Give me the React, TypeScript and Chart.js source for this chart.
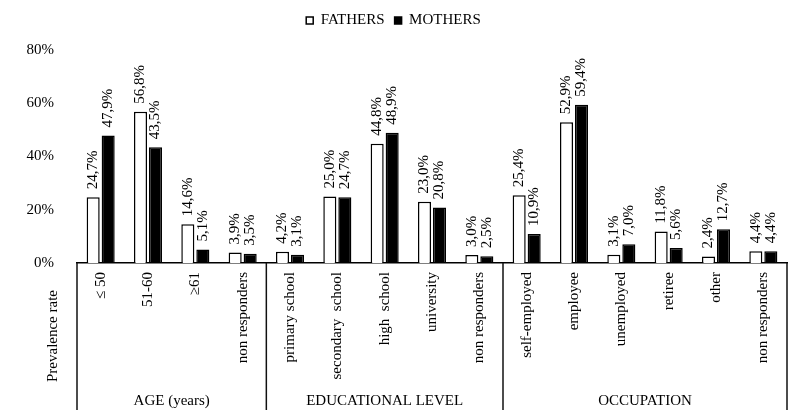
import React, { useEffect, useRef } from 'react';
import { Chart, registerables } from 'chart.js';

Chart.register(...registerables);

const FONT = "'Liberation Serif', 'Times New Roman', serif";

const categories = [
  '≤ 50', '51-60', '≥61', 'non responders',
  'primary school', 'secondary  school', 'high  school', 'university', 'non responders',
  'self-employed', 'employee', 'unemployed', 'retiree', 'other', 'non responders',
];
const groupNames = ['AGE (years)', 'EDUCATIONAL LEVEL', 'OCCUPATION'];
const groupSizes = [4, 5, 6];
const fathers = [24.7, 56.8, 14.6, 3.9, 4.2, 25.0, 44.8, 23.0, 3.0, 25.4, 52.9, 3.1, 11.8, 2.4, 4.4];
const mothers = [47.9, 43.5, 5.1, 3.5, 3.1, 24.7, 48.9, 20.8, 2.5, 10.9, 59.4, 7.0, 5.6, 12.7, 4.4];
const yMin = 0;
const yMax = 80;
const yStep = 20;
const yTitle = 'Prevalence rate';

const fmt = (v: number) => v.toFixed(1).replace('.', ',') + '%';

const annotPlugin = {
  id: 'annot',
  afterDatasetsDraw(chart: any) {
    const ctx = chart.ctx;
    const area = chart.chartArea;
    const xs = chart.scales.x;
    ctx.save();
    ctx.fillStyle = '#000';
    ctx.font = `15px ${FONT}`;
    chart.data.datasets.forEach((ds: any, di: number) => {
      const meta = chart.getDatasetMeta(di);
      meta.data.forEach((el: any, i: number) => {
        ctx.save();
        ctx.translate(el.x, el.y - 8);
        ctx.rotate(-Math.PI / 2);
        ctx.textAlign = 'left';
        ctx.textBaseline = 'middle';
        ctx.fillText(fmt(ds.data[i]), 0, 0);
        ctx.restore();
      });
    });

    // group separators and labels
    const bounds: number[] = [area.left];
    let idx = 0;
    groupSizes.forEach((n, g) => {
      idx += n;
      if (g < groupSizes.length - 1) {
        bounds.push((xs.getPixelForValue(idx - 1) + xs.getPixelForValue(idx)) / 2);
      } else {
        bounds.push(area.right);
      }
    });
    ctx.strokeStyle = '#111';
    ctx.lineWidth = 1.5;
    bounds.forEach((bx) => {
      ctx.beginPath();
      ctx.moveTo(bx, area.bottom);
      ctx.lineTo(bx, chart.height);
      ctx.stroke();
    });
    ctx.textAlign = 'center';
    ctx.textBaseline = 'alphabetic';
    groupNames.forEach((name, g) => {
      ctx.fillText(name, (bounds[g] + bounds[g + 1]) / 2, 405);
    });

    // y title
    ctx.save();
    ctx.translate(53, 336);
    ctx.rotate(-Math.PI / 2);
    ctx.textAlign = 'center';
    ctx.textBaseline = 'middle';
    ctx.fillText(yTitle, 0, 0);
    ctx.restore();
    ctx.restore();
  },
};

export default function App() {
  const ref = useRef<HTMLCanvasElement>(null);
  useEffect(() => {
    if (!ref.current) return;
    const chart = new Chart(ref.current, {
      type: 'bar',
      data: {
        labels: categories,
        datasets: [
          {
            label: 'FATHERS',
            data: fathers,
            backgroundColor: '#fff',
            borderColor: '#000',
            borderWidth: 1.5,
            categoryPercentage: 0.634,
            barPercentage: 0.87,
          },
          {
            label: 'MOTHERS',
            data: mothers,
            backgroundColor: '#000',
            borderColor: '#000',
            borderWidth: 1.5,
            categoryPercentage: 0.634,
            barPercentage: 0.87,
          },
        ],
      },
      options: {
        animation: false,
        responsive: true,
        maintainAspectRatio: false,
        layout: { padding: { left: 0, right: 12, top: 3, bottom: 0 } },
        plugins: {
          legend: {
            position: 'top',
            labels: {
              color: '#000',
              font: { family: FONT, size: 15 },
              boxWidth: 7,
              boxHeight: 7,
              padding: 10,
            },
          },
          subtitle: {
            display: true,
            text: '',
            weight: 500,
            font: { size: 1, lineHeight: 1 },
            padding: { top: 0, bottom: 11 },
          } as any,
          tooltip: { enabled: false },
        },
        scales: {
          x: {
            grid: { display: false },
            border: { display: true, color: '#000', width: 1.5 },
            ticks: {
              autoSkip: false,
              minRotation: 90,
              maxRotation: 90,
              padding: 1,
              color: '#000',
              font: { family: FONT, size: 15 },
            },
            afterFit: (scale: any) => {
              scale.height = 147;
            },
          },
          y: {
            min: yMin,
            max: yMax,
            grid: { display: false },
            border: { display: false },
            ticks: {
              stepSize: yStep,
              padding: 15,
              color: '#000',
              font: { family: FONT, size: 15 },
              callback: (v: any) => v + '%',
            },
            afterFit: (scale: any) => {
              scale.width = 77;
            },
          },
        },
      },
      plugins: [annotPlugin],
    });
    return () => chart.destroy();
  }, []);
  return (
    <div style={{ position: 'fixed', left: 0, top: 0, width: 799, height: 410 }}>
      <canvas ref={ref} />
    </div>
  );
}
